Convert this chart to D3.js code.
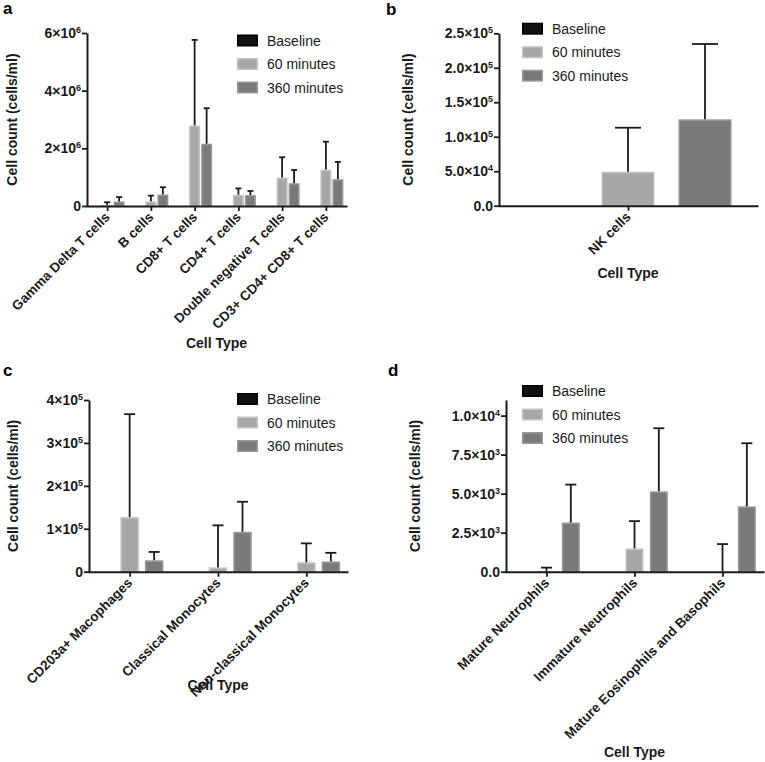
<!DOCTYPE html>
<html><head><meta charset="utf-8">
<script src="https://cdn.jsdelivr.net/npm/d3@7"></script>
<style>
body{margin:0;background:#fff}
svg{display:block}
text{font-family:"Liberation Sans",Arial,Helvetica,sans-serif}
</style>
</head><body>
<svg id="chart" width="765" height="762"></svg>
<script>
// ---------- data ----------
const seriesNames = ["Baseline", "60 minutes", "360 minutes"];

const aCategories = ["Gamma Delta T cells", "B cells", "CD8+ T cells", "CD4+ T cells", "Double negative T cells", "CD3+ CD4+ CD8+ T cells"];
const aBaseline = [0, 0, 0, 0, 0, 0];
const a60 = [0.04e6, 0.16e6, 2.79e6, 0.39e6, 0.99e6, 1.26e6];
const a60Err = [0.09e6, 0.20e6, 2.97e6, 0.22e6, 0.70e6, 0.97e6];
const a360 = [0.16e6, 0.40e6, 2.16e6, 0.38e6, 0.79e6, 0.93e6];
const a360Err = [0.15e6, 0.25e6, 1.23e6, 0.14e6, 0.46e6, 0.60e6];
const aTicks = [0, 2e6, 4e6, 6e6];
const aTickLabels = ["0", "2×10^6", "4×10^6", "6×10^6"];

const bCategories = ["NK cells"];
const bBaseline = [0];
const b60 = [4.93e4];
const b60Err = [6.38e4];
const b360 = [1.253e5];
const b360Err = [1.092e5];
const bTicks = [0, 5e4, 1e5, 1.5e5, 2e5, 2.5e5];
const bTickLabels = ["0.0", "5.0×10^4", "1.0×10^5", "1.5×10^5", "2.0×10^5", "2.5×10^5"];

const cCategories = ["CD203a+ Macophages", "Classical Monocytes", "Non-classical Monocytes"];
const cBaseline = [0, 0, 0];
const c60 = [1.27e5, 0.10e5, 0.22e5];
const c60Err = [2.40e5, 0.98e5, 0.44e5];
const c360 = [0.265e5, 0.93e5, 0.24e5];
const c360Err = [0.195e5, 0.70e5, 0.20e5];
const cTicks = [0, 1e5, 2e5, 3e5, 4e5];
const cTickLabels = ["0", "1×10^5", "2×10^5", "3×10^5", "4×10^5"];

const dCategories = ["Mature Neutrophils", "Immature Neutrophils", "Mature Eosinophils and Basophils"];
const dBaseline = [0, 0, 0];
const d60 = [50, 1490, 20];
const d60Err = [210, 1750, 1750];
const d360 = [3150, 5150, 4190];
const d360Err = [2430, 4040, 4040];
const dTicks = [0, 2500, 5000, 7500, 10000];
const dTickLabels = ["0.0", "2.5×10^3", "5.0×10^3", "7.5×10^3", "1.0×10^4"];

const xTitle = "Cell Type";
const yTitle = "Cell count (cells/ml)";

// ---------- style ----------
const fills = {"Baseline": "#111111", "60 minutes": "#a7a7a7", "360 minutes": "#7a7a7a"};
const edges = {"Baseline": "#000000", "60 minutes": "#c3c3c3", "360 minutes": "#999999"};
const ink = "#1a1a1a";

const svg = d3.select("#chart");

function setSupLabel(sel, label, supSize) {
  sel.text(null);
  const parts = label.split("^");
  sel.append("tspan").text(parts[0]);
  if (parts.length > 1) {
    sel.append("tspan").attr("dy", "-0.55em").attr("font-size", supSize).text(parts[1]);
  }
}

function drawPanel(cfg) {
  const g = svg.append("g");
  const y = d3.scaleLinear().domain([0, cfg.yMax]).range([cfg.bottom, cfg.top]);
  const x = d3.scalePoint().domain(cfg.categories).range([cfg.left, cfg.right]).padding(0.46);
  const xs = d3.scaleBand().domain(seriesNames)
    .range([-cfg.groupHalf, cfg.groupHalf])
    .paddingInner(cfg.pin).paddingOuter(cfg.pin / 2);
  const bw = xs.bandwidth();

  // bars
  cfg.values.forEach((vals, si) => {
    const s = seriesNames[si];
    vals.forEach((v, ci) => {
      const x0 = x(cfg.categories[ci]) + xs(s);
      const h = y(0) - y(v);
      if (h <= 0.2) return;
      g.append("rect")
        .attr("x", x0 + 0.75).attr("y", y(v) + 0.75)
        .attr("width", bw - 1.5).attr("height", Math.max(0, h - 0.75))
        .attr("fill", fills[s]).attr("stroke", edges[s]).attr("stroke-width", 1.5);
    });
  });

  // error bars (upper only)
  cfg.errors.forEach((errs, si) => {
    if (!errs) return;
    const s = seriesNames[si];
    errs.forEach((e, ci) => {
      const v = cfg.values[si][ci];
      const cx = x(cfg.categories[ci]) + xs(s) + bw / 2;
      g.append("line").attr("x1", cx).attr("x2", cx)
        .attr("y1", y(v)).attr("y2", y(v + e))
        .attr("stroke", ink).attr("stroke-width", 1.8);
      g.append("line").attr("x1", cx - cfg.cap / 2).attr("x2", cx + cfg.cap / 2)
        .attr("y1", y(v + e)).attr("y2", y(v + e))
        .attr("stroke", ink).attr("stroke-width", 1.8);
    });
  });

  // y axis
  const ya = g.append("g").attr("transform", `translate(${cfg.left},0)`)
    .call(d3.axisLeft(y).tickValues(cfg.ticks).tickSize(5).tickSizeOuter(0).tickPadding(1));
  ya.select(".domain").attr("stroke", ink).attr("stroke-width", 2);
  ya.selectAll(".tick line").attr("stroke", ink).attr("stroke-width", 1.8);
  ya.selectAll(".tick text")
    .attr("font-family", '"Liberation Sans",Arial,sans-serif')
    .attr("font-size", 14).attr("font-weight", "bold").attr("fill", ink)
    .each(function(d, i) { setSupLabel(d3.select(this), cfg.tickLabels[i], 9); });
  ya.attr("font-family", null).attr("font-size", null);

  // x axis
  const xa = g.append("g").attr("transform", `translate(0,${cfg.bottom})`)
    .call(d3.axisBottom(x).tickSize(5).tickSizeOuter(0).tickFormat(""));
  xa.select(".domain").attr("stroke", ink).attr("stroke-width", 2).attr("stroke-linecap", "square");
  xa.selectAll(".tick line").attr("stroke", ink).attr("stroke-width", 1.8);
  xa.selectAll(".tick text").remove();
  xa.selectAll(".tick").append("text")
    .attr("transform", "translate(3,12) rotate(-45)")
    .attr("text-anchor", "end")
    .attr("font-size", 13.5).attr("font-weight", "bold").attr("fill", ink)
    .attr("font-family", '"Liberation Sans",Arial,sans-serif')
    .text(d => d);

  // titles
  g.append("text")
    .attr("transform", `translate(${cfg.yTitleX},${(cfg.top + cfg.bottom) / 2}) rotate(-90)`)
    .attr("text-anchor", "middle").attr("font-size", 14).attr("font-weight", "bold").attr("fill", ink)
    .text(yTitle);
  g.append("text")
    .attr("x", (cfg.left + cfg.right) / 2).attr("y", cfg.xTitleY)
    .attr("text-anchor", "middle").attr("font-size", 14).attr("font-weight", "bold").attr("fill", ink)
    .text(xTitle);

  // panel letter
  g.append("text").attr("x", cfg.labelX).attr("y", cfg.labelY)
    .attr("font-size", 17).attr("font-weight", "bold").attr("fill", "#000").text(cfg.letter);

  // legend
  const lg = g.append("g").attr("transform", `translate(${cfg.legX},${cfg.legY})`);
  const ly = d3.scaleBand().domain(seriesNames).range([0, 3 * 23.5]);
  seriesNames.forEach(s => {
    lg.append("rect").attr("x", 0.75).attr("y", ly(s) + 0.75).attr("width", 19.5).attr("height", 10.5)
      .attr("fill", fills[s]).attr("stroke", edges[s]).attr("stroke-width", 1.5);
    lg.append("text").attr("x", 30).attr("y", ly(s) + 11)
      .attr("font-size", 14).attr("fill", ink).text(s);
  });
}

drawPanel({
  categories: aCategories, values: [aBaseline, a60, a360], errors: [null, a60Err, a360Err],
  ticks: aTicks, tickLabels: aTickLabels, yMax: 6e6,
  left: 87, right: 346, top: 33, bottom: 206,
  groupHalf: 18, pin: 0.083, cap: 6,
  legX: 237, legY: 34.5, labelX: 3, labelY: 14, letter: "a",
  yTitleX: 17, xTitleY: 348
});
drawPanel({
  categories: bCategories, values: [bBaseline, b60, b360], errors: [null, b60Err, b360Err],
  ticks: bTicks, tickLabels: bTickLabels, yMax: 2.5e5,
  left: 499, right: 757, top: 33.3, bottom: 205.7,
  groupHalf: 115.5, pin: 0.31, cap: 26,
  legX: 522, legY: 22.7, labelX: 386, labelY: 15, letter: "b",
  yTitleX: 413, xTitleY: 278
});
drawPanel({
  categories: cCategories, values: [cBaseline, c60, c360], errors: [null, c60Err, c360Err],
  ticks: cTicks, tickLabels: cTickLabels, yMax: 4e5,
  left: 89, right: 347, top: 400, bottom: 571.7,
  groupHalf: 36.75, pin: 0.245, cap: 11,
  legX: 237, legY: 393, labelX: 3, labelY: 376, letter: "c",
  yTitleX: 18, xTitleY: 690
});
drawPanel({
  categories: dCategories, values: [dBaseline, d60, d360], errors: [null, d60Err, d360Err],
  ticks: dTicks, tickLabels: dTickLabels, yMax: 1.1e4,
  left: 506, right: 763, top: 400, bottom: 571.7,
  groupHalf: 36.5, pin: 0.26, cap: 11,
  legX: 522, legY: 385, labelX: 388, labelY: 376, letter: "d",
  yTitleX: 420, xTitleY: 757
});
</script>
</body></html>
